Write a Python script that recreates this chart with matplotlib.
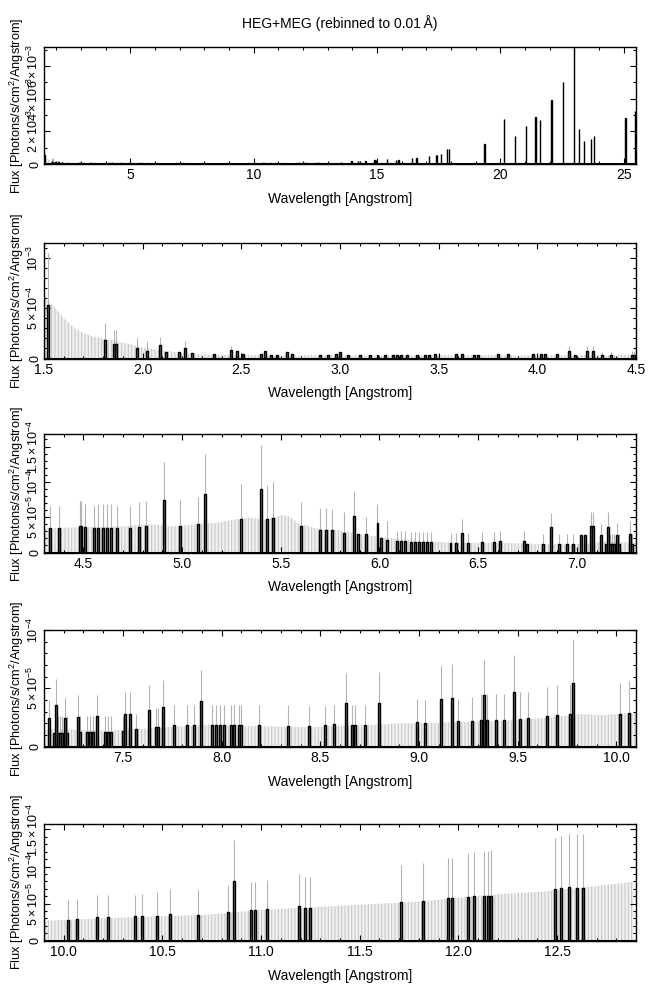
import matplotlib
matplotlib.use('Agg')
import matplotlib.pyplot as plt
from matplotlib.ticker import MultipleLocator

plt.rcParams['font.family'] = ['Liberation Sans', 'DejaVu Sans']
plt.rcParams['mathtext.fontset'] = 'custom'
plt.rcParams['mathtext.rm'] = 'Liberation Sans'
plt.rcParams['mathtext.it'] = 'Liberation Sans:italic'
plt.rcParams['mathtext.bf'] = 'Liberation Sans:bold'
plt.rcParams['hatch.linewidth'] = 0.7
plt.rcParams['hatch.color'] = '#c4c4c4'

# ---------------- data ----------------
# nonzero flux bins: wavelength [A], flux, top of error bar
wl = [1.52, 1.81, 1.855, 1.865, 1.97, 2.02, 2.09, 2.12, 2.185, 2.215, 2.25, 2.36,
      2.45, 2.48, 2.51, 2.60, 2.62, 2.65, 2.68, 2.73, 2.755, 2.90, 2.94, 2.98, 3.00,
      3.04, 3.10, 3.15, 3.19, 3.23, 3.27, 3.29, 3.31, 3.34, 3.39, 3.43, 3.45, 3.48,
      3.59, 3.62, 3.68, 3.70, 3.80, 3.85, 3.98, 4.02, 4.04, 4.10, 4.16, 4.19, 4.25, 4.28,
      4.33, 4.375, 4.48, 4.49, 4.51, 4.555, 4.575, 4.60, 4.62, 4.64, 4.67, 4.735, 4.78,
      4.815, 4.91, 4.99, 5.08, 5.115, 5.30, 5.40, 5.43, 5.46, 5.60, 5.70, 5.73, 5.76,
      5.82, 5.87, 5.89, 5.93, 5.99, 6.01, 6.04, 6.09, 6.11, 6.13, 6.16, 6.18, 6.20,
      6.22, 6.24, 6.26, 6.36, 6.39, 6.42, 6.45, 6.52, 6.58, 6.61, 6.73, 6.75, 6.83,
      6.87, 6.91, 6.95, 6.98, 7.02, 7.04, 7.07, 7.08,
      7.125, 7.15, 7.16, 7.17, 7.18, 7.19, 7.205, 7.215, 7.27, 7.28, 7.32, 7.335, 7.35,
      7.37, 7.41, 7.425, 7.44, 7.50, 7.51, 7.535, 7.565, 7.63, 7.67, 7.68, 7.705, 7.76,
      7.825, 7.86, 7.895, 7.95, 7.97, 7.99, 8.01, 8.05, 8.065, 8.09, 8.10, 8.19, 8.335,
      8.445, 8.525, 8.57, 8.63, 8.66, 8.675, 8.725, 8.80, 8.99, 9.03, 9.11, 9.17, 9.20,
      9.27, 9.315, 9.33, 9.345, 9.39, 9.43, 9.48, 9.51, 9.555, 9.65, 9.70, 9.765, 9.78,
      10.02, 10.065, 10.17, 10.225, 10.36, 10.395, 10.475, 10.54, 10.68, 10.83, 10.865,
      10.95, 10.97, 11.03, 11.19, 11.225, 11.25, 11.71, 11.82, 11.945, 11.97, 12.05,
      12.08, 12.13, 12.15, 12.165, 12.49, 12.52, 12.56, 12.60, 12.63,
      13.54, 13.97, 14.22, 14.31, 14.53, 14.90, 14.95, 15.41, 15.78, 15.87, 16.43, 16.60,
      17.10, 17.38, 17.44, 17.58, 17.85, 17.92, 19.36, 20.16, 20.58, 21.04, 21.43, 21.60,
      22.07, 22.53, 23.00, 23.18, 23.38, 23.68, 23.80, 25.07, 25.45]

flux = [5.3e-4, 1.84e-4, 1.45e-4, 1.45e-4, 1.06e-4, 0.77e-4, 1.32e-4, 0.68e-4, 0.60e-4,
        1.06e-4, 0.55e-4, 0.48e-4, 0.80e-4, 0.74e-4, 0.45e-4, 0.48e-4, 0.70e-4, 0.35e-4,
        0.35e-4, 0.60e-4, 0.42e-4, 0.35e-4, 0.39e-4, 0.48e-4, 0.60e-4, 0.35e-4, 0.35e-4,
        0.35e-4, 0.35e-4, 0.35e-4, 0.32e-4, 0.32e-4, 0.32e-4, 0.32e-4, 0.35e-4, 0.35e-4,
        0.35e-4, 0.45e-4, 0.42e-4, 0.42e-4, 0.35e-4, 0.35e-4, 0.42e-4, 0.48e-4, 0.48e-4,
        0.45e-4, 0.45e-4, 0.45e-4, 0.74e-4, 0.35e-4, 0.74e-4, 0.74e-4,
        3.4e-5, 3.4e-5, 3.7e-5, 3.7e-5, 3.6e-5, 3.4e-5, 3.4e-5, 3.5e-5, 3.5e-5, 3.5e-5,
        3.4e-5, 3.5e-5, 3.6e-5, 3.7e-5, 7.5e-5, 3.8e-5, 4.0e-5, 8.3e-5, 4.8e-5, 9.0e-5,
        4.8e-5, 4.95e-5, 3.7e-5, 3.25e-5, 3.25e-5, 3.16e-5, 2.8e-5, 5.2e-5, 2.6e-5,
        2.6e-5, 4.2e-5, 2.0e-5, 1.75e-5, 1.6e-5, 1.6e-5, 1.6e-5, 1.5e-5, 1.5e-5, 1.5e-5,
        1.5e-5, 1.5e-5, 1.5e-5, 1.37e-5, 1.37e-5, 2.83e-5, 1.37e-5, 1.5e-5, 1.5e-5,
        1.65e-5, 1.65e-5, 1.27e-5, 1.27e-5, 3.6e-5, 1.27e-5, 1.27e-5, 1.27e-5, 2.5e-5,
        2.5e-5, 3.7e-5, 3.7e-5,
        2.5e-5, 1.14e-5, 3.6e-5, 1.2e-5, 1.2e-5, 1.2e-5, 2.5e-5, 1.2e-5, 2.57e-5, 1.26e-5,
        1.29e-5, 1.29e-5, 1.29e-5, 2.63e-5, 1.29e-5, 1.29e-5, 1.29e-5, 1.37e-5, 2.77e-5,
        2.77e-5, 1.5e-5, 3.14e-5, 1.66e-5, 1.66e-5, 3.37e-5, 1.86e-5, 1.86e-5, 1.86e-5,
        3.89e-5, 1.86e-5, 1.86e-5, 1.86e-5, 1.86e-5, 1.86e-5, 1.86e-5, 1.83e-5, 1.83e-5,
        1.83e-5, 1.80e-5, 1.74e-5, 1.83e-5, 1.91e-5, 3.74e-5, 1.86e-5, 1.86e-5, 1.83e-5,
        3.74e-5, 2.1e-5, 2.04e-5, 4.1e-5, 4.2e-5, 2.2e-5, 2.23e-5, 2.28e-5, 4.43e-5,
        2.28e-5, 2.28e-5, 2.28e-5, 4.66e-5, 2.37e-5, 2.43e-5, 2.63e-5, 2.7e-5, 2.8e-5,
        5.49e-5,
        2.78e-5, 2.9e-5, 3.14e-5, 3.14e-5, 3.27e-5, 3.32e-5, 3.36e-5, 3.59e-5, 3.45e-5,
        3.86e-5, 8.0e-5, 4.08e-5, 4.08e-5, 4.26e-5, 4.66e-5, 4.44e-5, 4.44e-5, 5.16e-5,
        5.38e-5, 5.7e-5, 5.7e-5, 5.92e-5, 5.97e-5, 6.05e-5, 6.05e-5, 6.05e-5, 6.95e-5,
        7.04e-5, 7.26e-5, 7.17e-5, 7.17e-5,
        1.4e-4, 1.6e-4, 1.8e-4, 1.8e-4, 1.8e-4, 2.5e-4, 2.7e-4, 2.9e-4, 2.7e-4, 2.7e-4,
        3.7e-4, 3.9e-4, 5.0e-4, 5.3e-4, 5.5e-4, 6.2e-4, 9.2e-4, 9.2e-4, 1.23e-3, 2.77e-3,
        1.70e-3, 2.30e-3, 2.89e-3, 2.67e-3, 3.94e-3, 5.05e-3, 7.12e-3, 2.15e-3, 1.42e-3,
        1.54e-3, 1.72e-3, 2.79e-3, 3.22e-3]

err_hi = [1.05e-3, 3.5e-4, 2.8e-4, 2.8e-4, 2.0e-4, 1.7e-4, 2.1e-4, 0.68e-4, 0.60e-4,
          1.7e-4, 0.55e-4, 0.48e-4, 1.25e-4, 0.74e-4, 0.45e-4, 0.48e-4, 0.70e-4, 0.35e-4,
          0.35e-4, 0.60e-4, 0.42e-4, 0.35e-4, 0.39e-4, 0.48e-4, 0.60e-4, 0.35e-4, 0.35e-4,
          0.35e-4, 0.35e-4, 0.35e-4, 0.32e-4, 0.32e-4, 0.32e-4, 0.32e-4, 0.35e-4, 0.35e-4,
          0.35e-4, 0.45e-4, 0.42e-4, 0.42e-4, 0.35e-4, 0.35e-4, 0.42e-4, 0.48e-4, 0.48e-4,
          0.45e-4, 0.45e-4, 0.45e-4, 1.2e-4, 0.35e-4, 1.2e-4, 1.2e-4,
          6.6e-5, 6.6e-5, 7.3e-5, 7.3e-5, 6.9e-5, 6.6e-5, 6.8e-5, 6.8e-5, 6.8e-5, 6.8e-5,
          6.6e-5, 6.6e-5, 7.1e-5, 7.3e-5, 1.28e-4, 7.5e-5, 7.9e-5, 1.39e-4, 9.7e-5, 1.52e-4,
          9.5e-5, 1.0e-4, 7.1e-5, 6.3e-5, 6.3e-5, 6.1e-5, 5.7e-5, 8.7e-5, 2.6e-5,
          5.0e-5, 6.9e-5, 2.0e-5, 4.4e-5, 3.0e-5, 3.0e-5, 3.0e-5, 2.9e-5, 2.9e-5, 2.9e-5,
          2.9e-5, 2.9e-5, 2.9e-5, 2.8e-5, 2.8e-5, 4.7e-5, 2.8e-5, 2.9e-5, 2.9e-5,
          3.0e-5, 3.0e-5, 1.27e-5, 2.6e-5, 5.6e-5, 2.6e-5, 2.6e-5, 2.6e-5, 2.6e-5,
          2.6e-5, 5.8e-5, 5.8e-5,
          4.0e-5, 1.14e-5, 5.8e-5, 2.6e-5, 2.6e-5, 2.6e-5, 4.2e-5, 2.6e-5, 4.4e-5, 2.6e-5,
          2.6e-5, 2.6e-5, 2.6e-5, 4.4e-5, 2.6e-5, 2.6e-5, 2.6e-5, 2.6e-5, 4.7e-5,
          4.7e-5, 2.8e-5, 5.3e-5, 3.3e-5, 3.3e-5, 5.7e-5, 3.6e-5, 3.6e-5, 3.6e-5,
          6.6e-5, 3.6e-5, 3.6e-5, 3.6e-5, 3.6e-5, 3.6e-5, 3.6e-5, 3.6e-5, 3.6e-5,
          3.6e-5, 3.6e-5, 3.5e-5, 3.5e-5, 3.6e-5, 6.3e-5, 3.6e-5, 3.6e-5, 3.6e-5,
          6.4e-5, 4.1e-5, 4.0e-5, 6.9e-5, 7.1e-5, 4.1e-5, 4.3e-5, 4.5e-5, 7.4e-5,
          4.5e-5, 4.5e-5, 4.5e-5, 7.9e-5, 4.7e-5, 4.7e-5, 5.1e-5, 5.3e-5, 5.4e-5,
          9.2e-5,
          5.47e-5, 5.6e-5, 6.1e-5, 6.1e-5, 6.2e-5, 6.3e-5, 6.6e-5, 7.0e-5, 6.9e-5,
          7.5e-5, 1.36e-4, 7.9e-5, 7.9e-5, 8.2e-5, 9.0e-5, 8.6e-5, 8.6e-5, 1.02e-4,
          1.05e-4, 1.12e-4, 1.12e-4, 1.18e-4, 1.20e-4, 1.21e-4, 1.21e-4, 1.22e-4, 1.39e-4,
          1.41e-4, 1.44e-4, 1.44e-4, 1.44e-4,
          1.4e-4, 1.6e-4, 1.8e-4, 1.8e-4, 1.8e-4, 2.5e-4, 2.7e-4, 2.9e-4, 2.7e-4, 2.7e-4,
          3.7e-4, 3.9e-4, 5.0e-4, 5.3e-4, 5.5e-4, 6.2e-4, 9.2e-4, 9.2e-4, 1.23e-3, 2.77e-3,
          1.70e-3, 2.30e-3, 2.89e-3, 2.67e-3, 3.94e-3, 5.05e-3, 7.12e-3, 2.15e-3, 1.42e-3,
          1.54e-3, 1.72e-3, 2.79e-3, 3.22e-3]

# upper error level of the empty bins (grey envelope)
env_wl = [1.50, 1.52, 1.55, 1.60, 1.65, 1.70, 1.75, 1.80, 1.90, 2.00, 2.10, 2.20, 2.30,
          2.50, 3.00, 3.50, 4.00, 4.34, 4.49, 4.70, 4.83, 4.96, 5.08, 5.17, 5.30, 5.34,
          5.42, 5.51, 5.55, 5.59, 5.68, 5.80, 5.93, 6.06, 6.19, 6.40, 6.61, 6.82, 7.03,
          7.14, 7.40, 7.50, 7.71, 7.82, 7.93, 8.14, 8.35, 8.46, 8.56, 8.77, 8.88, 8.99,
          9.20, 9.41, 9.62, 9.73, 9.83, 9.92, 10.09, 10.30, 10.51, 10.73, 10.85, 10.94,
          11.15, 11.36, 11.57, 11.79, 12.00, 12.21, 12.42, 12.63, 12.89]
env_hi = [5.8e-4, 5.8e-4, 5.2e-4, 4.0e-4, 3.1e-4, 2.5e-4, 2.2e-4, 2.0e-4, 1.6e-4, 1.1e-4,
          0.8e-4, 0.55e-4, 0.4e-4, 0.32e-4, 0.30e-4, 0.32e-4, 0.30e-4, 3.4e-5, 3.6e-5,
          3.7e-5, 4.0e-5, 3.7e-5, 4.0e-5, 4.2e-5, 4.8e-5, 4.95e-5, 4.6e-5, 5.3e-5, 5.0e-5,
          4.1e-5, 3.4e-5, 3.1e-5, 2.45e-5, 2.0e-5, 1.65e-5, 1.37e-5, 1.37e-5, 1.18e-5,
          1.2e-5, 1.5e-5, 1.37e-5, 1.43e-5, 1.66e-5, 1.77e-5, 1.86e-5, 1.77e-5, 1.71e-5,
          1.66e-5, 1.77e-5, 1.86e-5, 2.0e-5, 2.0e-5, 2.1e-5, 2.2e-5, 2.43e-5, 2.63e-5,
          2.8e-5, 2.7e-5, 2.9e-5, 3.1e-5, 3.3e-5, 3.5e-5, 3.8e-5, 4.0e-5, 4.35e-5, 4.66e-5,
          4.93e-5, 5.25e-5, 5.8e-5, 6.28e-5, 6.6e-5, 7.17e-5, 7.94e-5]

title = "HEG+MEG (rebinned to 0.01\u2009\u00c5)"
xlabel = "Wavelength [Angstrom]"
ylabel = "Flux [Photons/s/cm$^2$/Angstrom]"

panel_xlim = [(1.5, 25.5), (1.5, 4.5), (4.3, 7.3), (7.1, 10.1), (9.9, 12.9)]
panel_ylim = [7.2e-3, 1.15e-3, 1.67e-4, 1.0e-4, 1.58e-4]
panel_yticks = [[0, 2e-3, 4e-3, 6e-3], [0, 5e-4, 1e-3], [0, 5e-5, 1e-4, 1.5e-4],
                [0, 5e-5, 1e-4], [0, 5e-5, 1e-4, 1.5e-4]]
panel_yticklabels = [["0", r"$2\times10^{-3}$", r"$4\times10^{-3}$", r"$6\times10^{-3}$"],
                     ["0", r"$5\times10^{-4}$", r"$10^{-3}$"],
                     ["0", r"$5\times10^{-5}$", r"$10^{-4}$", r"$1.5\times10^{-4}$"],
                     ["0", r"$5\times10^{-5}$", r"$10^{-4}$"],
                     ["0", r"$5\times10^{-5}$", r"$10^{-4}$", r"$1.5\times10^{-4}$"]]
panel_xmajor = [5, 0.5, 0.5, 0.5, 0.5]
panel_xminor = [1, 0.1, 0.1, 0.1, 0.1]
panel_yminor = [1e-3, 1e-4, 1e-5, 1e-5, 1e-5]

# ---------------- layout ----------------
W, H = 650, 991
fig = plt.figure(figsize=(W / 100, H / 100), dpi=100)
ax_left, ax_right = 44, 636
ax_tb = [(46.5, 164), (243, 358.5), (434.5, 552.5), (630, 746.7), (823.5, 940.7)]

for i, (top, bot) in enumerate(ax_tb):
    ax = fig.add_axes([ax_left / W, 1 - bot / H, (ax_right - ax_left) / W, (bot - top) / H])
    ax.fill_between(env_wl, 0, env_hi, facecolor='#f0f0f0', edgecolor='#c4c4c4',
                    hatch='|||||', linewidth=0, zorder=1)
    ax.vlines(wl, 0, err_hi, color='#b4b4b4', lw=0.8, zorder=2)
    ax.bar(wl, flux, width=0.01, facecolor='#666666', edgecolor='black',
           linewidth=1.0, zorder=3)
    ax.axhline(0, color='black', lw=2.2, zorder=4)
    ax.set_xlim(*panel_xlim[i])
    ax.set_ylim(0, panel_ylim[i])
    ax.xaxis.set_major_locator(MultipleLocator(panel_xmajor[i]))
    ax.xaxis.set_minor_locator(MultipleLocator(panel_xminor[i]))
    ax.yaxis.set_minor_locator(MultipleLocator(panel_yminor[i]))
    ax.set_yticks(panel_yticks[i])
    ax.set_yticklabels(panel_yticklabels[i], rotation=90, va='center')
    ax.tick_params(which='both', direction='in', top=True, right=True, width=0.8)
    ax.tick_params(axis='x', labelsize=10, pad=3)
    ax.tick_params(axis='y', labelsize=9, pad=2)
    ax.tick_params(which='major', length=4)
    ax.tick_params(which='minor', length=2)
    for s in ax.spines.values():
        s.set_linewidth(1.0)
    ax.set_xlabel(xlabel, fontsize=10, labelpad=7)
    ax.set_ylabel(ylabel, fontsize=9.2)
    ax.yaxis.set_label_coords(-0.03, 0.5)
    if i == 0:
        ax.set_title(title, fontsize=10, pad=13)

fig.savefig('out.png', dpi=100)
